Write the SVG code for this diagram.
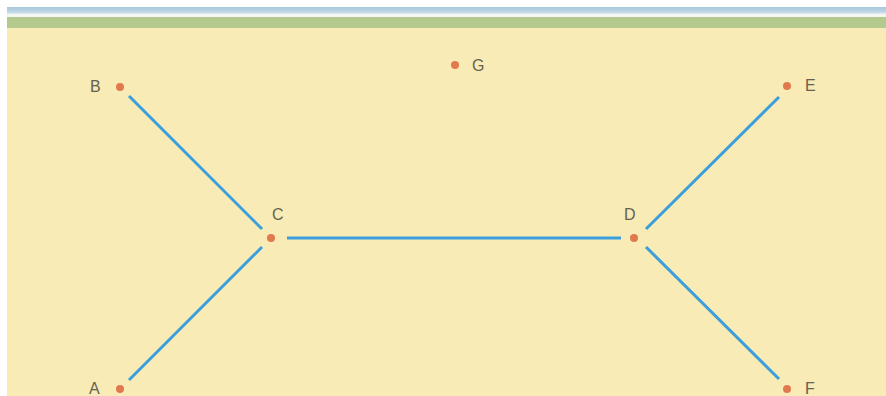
<svg xmlns="http://www.w3.org/2000/svg" width="886" height="396" viewBox="0 0 886 396">
<defs>
<linearGradient id="sky" x1="0" y1="0" x2="0" y2="1">
<stop offset="0" stop-color="#a9c8da"/>
<stop offset="0.6" stop-color="#b9d4e4"/>
<stop offset="1" stop-color="#dfeaf1"/>
</linearGradient>
</defs>
<style>
.dot{fill:#e07a4e}
.lbl{font-family:"Liberation Sans",Arial,sans-serif;font-size:16px;fill:#66624f}
.edge{stroke:#3a9fdc;stroke-width:3;stroke-linecap:butt;fill:none}
</style>
<rect x="0" y="0" width="886" height="396" fill="#ffffff"/>
<rect x="7" y="7" width="879" height="7" fill="url(#sky)"/>
<rect x="7" y="14" width="879" height="3" fill="#f4f7f2"/>
<rect x="7" y="17" width="879" height="11" fill="#b4c98e"/>
<rect x="7" y="28" width="879" height="368" fill="#f8ebb6"/>
<g id="connectors">
<line class="edge" x1="129" y1="96" x2="262" y2="229"/>
<line class="edge" x1="287" y1="238" x2="621" y2="238"/>
<line class="edge" x1="129" y1="380" x2="262" y2="247"/>
<line class="edge" x1="646" y1="229" x2="779" y2="97"/>
<line class="edge" x1="646" y1="247" x2="779" y2="379"/>
</g>
<g id="A"><circle class="dot" cx="120" cy="389" r="4"/><text class="lbl" x="89" y="394">A</text></g>
<g id="B"><circle class="dot" cx="120" cy="87" r="4"/><text class="lbl" x="90" y="92">B</text></g>
<g id="C"><circle class="dot" cx="271" cy="238" r="4"/><text class="lbl" x="272" y="220">C</text></g>
<g id="D"><circle class="dot" cx="634" cy="238" r="4"/><text class="lbl" x="624" y="220">D</text></g>
<g id="E"><circle class="dot" cx="787" cy="86" r="4"/><text class="lbl" x="805" y="91">E</text></g>
<g id="F"><circle class="dot" cx="787" cy="389" r="4"/><text class="lbl" x="805" y="394">F</text></g>
<g id="G"><circle class="dot" cx="455" cy="65" r="4"/><text class="lbl" x="472" y="71">G</text></g>
</svg>
